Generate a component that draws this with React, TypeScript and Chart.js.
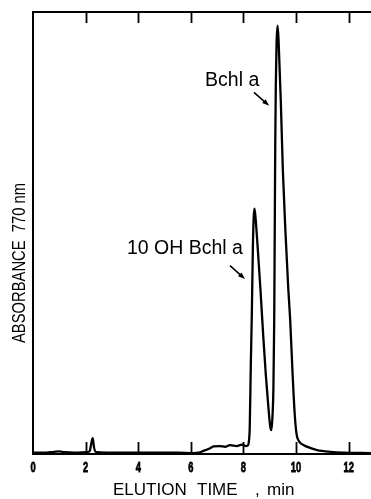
import { useEffect, useRef } from "react";
import { Chart, registerables } from "chart.js";

Chart.register(...registerables);

// Elution time (min) and absorbance (arbitrary units, 0-100)
const elutionTime = [
  0.0, 0.4, 0.8, 1.0, 1.2, 1.6, 2.0, 2.15, 2.22, 2.27, 2.32, 2.4, 2.8, 3.5, 4.5, 5.5,
  6.1, 6.3, 6.48, 6.73, 6.86, 7.11, 7.3, 7.49, 7.74, 7.94, 8.1, 8.18, 8.21, 8.24, 8.28,
  8.32, 8.36, 8.39, 8.42, 8.46, 8.55, 8.65, 8.75, 8.85, 8.95, 9.02, 9.06, 9.1, 9.14,
  9.17, 9.19, 9.21, 9.23, 9.26, 9.3, 9.34, 9.42, 9.5, 9.6, 9.7, 9.78, 9.87, 9.95, 10.02,
  10.1, 10.3, 10.53, 10.8, 11.3, 11.8, 12.85,
];
const absorbance = [
  0.3, 0.3, 0.5, 0.6, 0.4, 0.3, 0.4, 0.6, 2.5, 3.6, 1.5, 0.4, 0.3, 0.3, 0.3, 0.3,
  0.2, 0.3, 0.7, 1.3, 1.7, 1.8, 1.6, 2.0, 1.8, 2.1, 1.8, 2.0, 3.0, 6.0, 20,
  32, 47, 53.5, 55.5, 53.5, 46, 37, 27, 18, 10.5, 6.2, 5.4, 8, 15,
  30, 50, 70, 83, 93, 96.9, 93, 80, 64, 50, 38, 30, 18, 9, 4.5,
  3, 2, 1.4, 0.9, 0.5, 0.3, 0.2,
];

const xTickValues = [0, 2, 4, 6, 8, 10, 12];
const xMin = 0;
const xMax = 12.85;
const yMin = 0;
const yMax = 100;

const xTitleWords = ["ELUTION", "TIME", ",", "min"];
const yTitle = "ABSORBANCE  770 nm";

// Peak annotations (text anchor and arrow in data units)
const peakLabels = ["Bchl a", "10 OH Bchl a"];
const labelX = [6.54, 3.57];
const labelY = [83.2, 45.3];
const arrowFromX = [8.4, 7.49];
const arrowFromY = [81.8, 42.6];
const arrowToX = [8.98, 8.06];
const arrowToY = [78.8, 39.6];

const FONT = '"Liberation Sans", Arial, Helvetica, sans-serif';

const framePlugin = {
  id: "frame",
  afterDatasetsDraw(chart: any) {
    const ctx = chart.ctx as CanvasRenderingContext2D;
    const { left, right, top, bottom } = chart.chartArea;
    const xs = chart.scales.x;
    const ys = chart.scales.y;
    ctx.save();
    ctx.strokeStyle = "#000";
    ctx.fillStyle = "#000";
    ctx.lineWidth = 2;
    ctx.lineCap = "butt";

    // frame: left, top, bottom
    ctx.beginPath();
    ctx.moveTo(left, bottom);
    ctx.lineTo(left, top);
    ctx.lineTo(right, top);
    ctx.moveTo(left - 1, bottom);
    ctx.lineTo(right, bottom);
    ctx.stroke();

    // inward ticks
    ctx.lineWidth = 1.8;
    ctx.beginPath();
    xTickValues.forEach((v) => {
      if (v === xMin) return;
      const px = Math.round(xs.getPixelForValue(v)) + 0.5;
      ctx.moveTo(px, top);
      ctx.lineTo(px, top + 11);
      ctx.moveTo(px, bottom);
      ctx.lineTo(px, bottom - 12);
    });
    ctx.stroke();

    // tick labels (bold, condensed)
    ctx.font = `bold 15px ${FONT}`;
    ctx.textAlign = "center";
    ctx.textBaseline = "middle";
    ctx.lineWidth = 0.8;
    xTickValues.forEach((v) => {
      const px = xs.getPixelForValue(v);
      ctx.save();
      ctx.translate(px, bottom + 14);
      ctx.scale(0.62, 1);
      ctx.fillText(String(v), 0, 0);
      ctx.strokeText(String(v), 0, 0);
      ctx.restore();
    });

    // x title
    ctx.font = `17px ${FONT}`;
    ctx.textAlign = "left";
    ctx.textBaseline = "alphabetic";
    const cx = (left + right) / 2 - 3;
    const offsets = [-86, -2, 56, 68];
    xTitleWords.forEach((w, i) => ctx.fillText(w, cx + offsets[i], bottom + 41));

    // y title (rotated, condensed)
    ctx.save();
    ctx.translate(left - 13, (top + bottom) / 2 + 30);
    ctx.rotate(-Math.PI / 2);
    ctx.scale(0.82, 1);
    ctx.font = `18px ${FONT}`;
    ctx.textAlign = "center";
    ctx.textBaseline = "middle";
    ctx.fillText(yTitle, 0, 0);
    ctx.restore();

    // peak labels and arrows
    ctx.font = `19.5px ${FONT}`;
    ctx.textAlign = "left";
    ctx.textBaseline = "alphabetic";
    peakLabels.forEach((t, i) => {
      ctx.fillText(t, xs.getPixelForValue(labelX[i]), ys.getPixelForValue(labelY[i]));
      const x1 = xs.getPixelForValue(arrowFromX[i]);
      const y1 = ys.getPixelForValue(arrowFromY[i]);
      const x2 = xs.getPixelForValue(arrowToX[i]);
      const y2 = ys.getPixelForValue(arrowToY[i]);
      const ang = Math.atan2(y2 - y1, x2 - x1);
      ctx.lineWidth = 1.6;
      ctx.beginPath();
      ctx.moveTo(x1, y1);
      ctx.lineTo(x2 - 4 * Math.cos(ang), y2 - 4 * Math.sin(ang));
      ctx.stroke();
      const hl = 7;
      const hw = 2.6;
      ctx.beginPath();
      ctx.moveTo(x2, y2);
      ctx.lineTo(
        x2 - hl * Math.cos(ang) + hw * Math.sin(ang),
        y2 - hl * Math.sin(ang) - hw * Math.cos(ang)
      );
      ctx.lineTo(
        x2 - hl * Math.cos(ang) - hw * Math.sin(ang),
        y2 - hl * Math.sin(ang) + hw * Math.cos(ang)
      );
      ctx.closePath();
      ctx.fill();
    });

    ctx.restore();
  },
};

export default function App() {
  const canvasRef = useRef<HTMLCanvasElement | null>(null);

  useEffect(() => {
    if (!canvasRef.current) return;
    const data = elutionTime.map((t, i) => ({ x: t, y: absorbance[i] }));
    const chart = new Chart(canvasRef.current, {
      type: "line",
      data: {
        datasets: [
          {
            data,
            borderColor: "#000",
            borderWidth: 2.3,
            pointRadius: 0,
            fill: false,
            cubicInterpolationMode: "monotone",
          },
        ],
      },
      options: {
        animation: false,
        responsive: false,
        devicePixelRatio: 1,
        layout: { padding: { left: 33, right: 0, top: 12, bottom: 45 } },
        plugins: { legend: { display: false }, tooltip: { enabled: false } },
        scales: {
          x: { type: "linear", min: xMin, max: xMax, display: false },
          y: { type: "linear", min: yMin, max: yMax, display: false },
        },
      },
      plugins: [framePlugin],
    });
    return () => chart.destroy();
  }, []);

  return (
    <div style={{ position: "absolute", left: 0, top: 0, width: 371, height: 499, background: "#fff" }}>
      <canvas ref={canvasRef} width={371} height={499} style={{ display: "block" }} />
    </div>
  );
}
